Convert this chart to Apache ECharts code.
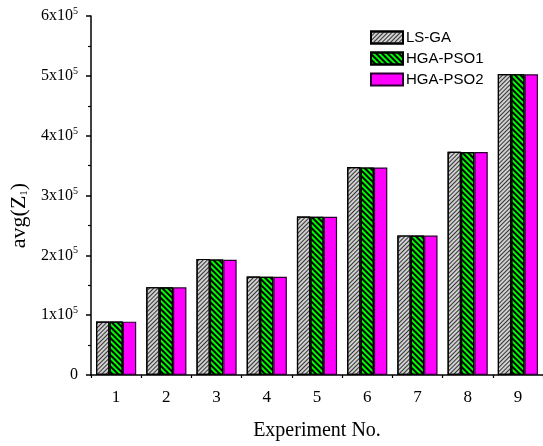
<!DOCTYPE html>
<html>
<head>
<meta charset="utf-8">
<script src="https://cdn.jsdelivr.net/npm/echarts@6/dist/echarts.min.js"></script>
<style>
  html, body { margin: 0; padding: 0; background: #fff; }
  #main { width: 543px; height: 446px; }
</style>
</head>
<body>
<div id="main"></div>
<script>
// experiment numbers on the x axis
const experiments = ['1', '2', '3', '4', '5', '6', '7', '8', '9'];
// avg(Z1) values
const lsGA    = [89500, 146800, 194000, 164500, 265000, 347500, 233300, 373000, 503000];
const hgaPSO1 = [89300, 146600, 193200, 164300, 264500, 347000, 233200, 372800, 502800];
const hgaPSO2 = [89200, 146500, 192500, 164200, 264300, 346800, 233100, 372600, 502600];
// y tick values (labels are written as Nx10^5)
const yTicks = [0, 100000, 200000, 300000, 400000, 500000, 600000];

const serif = 'Liberation Serif';

let myChart = echarts.init(document.getElementById('main'));

function yLabel(v) {
  if (v === 0) return '0';
  return '{b|' + (v / 100000) + 'x10}{s|5}';
}

myChart.setOption({
  animation: false,
  backgroundColor: '#fff',
  grid: {
    left: 91,
    right: -3,
    top: 16,
    bottom: 69.5
  },
  legend: {
    orient: 'vertical',
    left: 365,
    top: 25,
    itemWidth: 32,
    itemHeight: 12,
    itemGap: 6,
    icon: 'rect',
    textStyle: {
      fontFamily: 'Liberation Sans',
      fontSize: 15,
      color: '#000',
      padding: [0, 0, 0, -2]
    },
    data: ['LS-GA', 'HGA-PSO1', 'HGA-PSO2']
  },
  xAxis: [
    {
      type: 'category',
      data: experiments,
      name: 'Experiment No.',
      nameLocation: 'middle',
      nameGap: 46,
      nameTextStyle: { fontFamily: serif, fontSize: 20, color: '#000' },
      axisLine: { lineStyle: { color: '#000', width: 1.5 } },
      axisTick: { alignWithLabel: true, length: 7, lineStyle: { color: '#000', width: 1.5 } },
      axisLabel: { fontFamily: serif, fontSize: 17, color: '#000', margin: 14 }
    },
    {
      // boundary ticks between experiments
      type: 'category',
      data: experiments,
      position: 'bottom',
      axisLine: { show: false },
      axisTick: { show: true, length: 3, lineStyle: { color: '#000', width: 1.2 } },
      axisLabel: { show: false },
      splitLine: { show: false }
    }
  ],
  yAxis: {
    type: 'value',
    min: yTicks[0],
    max: yTicks[yTicks.length - 1],
    interval: 100000,
    name: 'avg(Z{sub|1})',
    nameLocation: 'middle',
    nameGap: 60,
    nameTextStyle: {
      fontFamily: serif,
      fontSize: 22,
      color: '#000',
      padding: [0, 40, 0, 0],
      rich: {
        sub: { fontFamily: serif, fontSize: 11, color: '#000', verticalAlign: 'bottom', padding: [9, 0, 0, 0] }
      }
    },
    axisLine: { show: true, lineStyle: { color: '#000', width: 1.5 } },
    axisTick: { show: true, length: 5, lineStyle: { color: '#000', width: 1.5 } },
    minorTick: { show: true, splitNumber: 2, length: 3, lineStyle: { color: '#000', width: 1.2 } },
    splitLine: { show: false },
    axisLabel: {
      margin: 13,
      formatter: yLabel,
      fontFamily: serif,
      fontSize: 16,
      color: '#000',
      rich: {
        b: { fontFamily: serif, fontSize: 16, color: '#000' },
        s: { fontFamily: serif, fontSize: 10, color: '#000', verticalAlign: 'top', padding: [0, 0, 9, 0] }
      }
    }
  },
  series: [
    {
      name: 'LS-GA',
      type: 'bar',
      data: lsGA,
      barGap: '0%',
      barCategoryGap: '20%',
      itemStyle: {
        color: '#d0d0d0',
        borderColor: '#000',
        borderWidth: 1.2,
        decal: {
          symbol: 'rect',
          color: '#333',
          dashArrayX: [1, 0],
          dashArrayY: [1, 2],
          rotation: -Math.PI / 4
        }
      }
    },
    {
      name: 'HGA-PSO1',
      type: 'bar',
      data: hgaPSO1,
      itemStyle: {
        color: '#00ff00',
        borderColor: '#000',
        borderWidth: 1.2,
        decal: {
          symbol: 'rect',
          color: '#000',
          dashArrayX: [1, 0],
          dashArrayY: [1.2, 2],
          rotation: Math.PI / 4
        }
      }
    },
    {
      name: 'HGA-PSO2',
      type: 'bar',
      data: hgaPSO2,
      itemStyle: {
        color: '#ff00ff',
        borderColor: '#2a0030',
        borderWidth: 1.2
      }
    }
  ]
});
</script>
</body>
</html>
